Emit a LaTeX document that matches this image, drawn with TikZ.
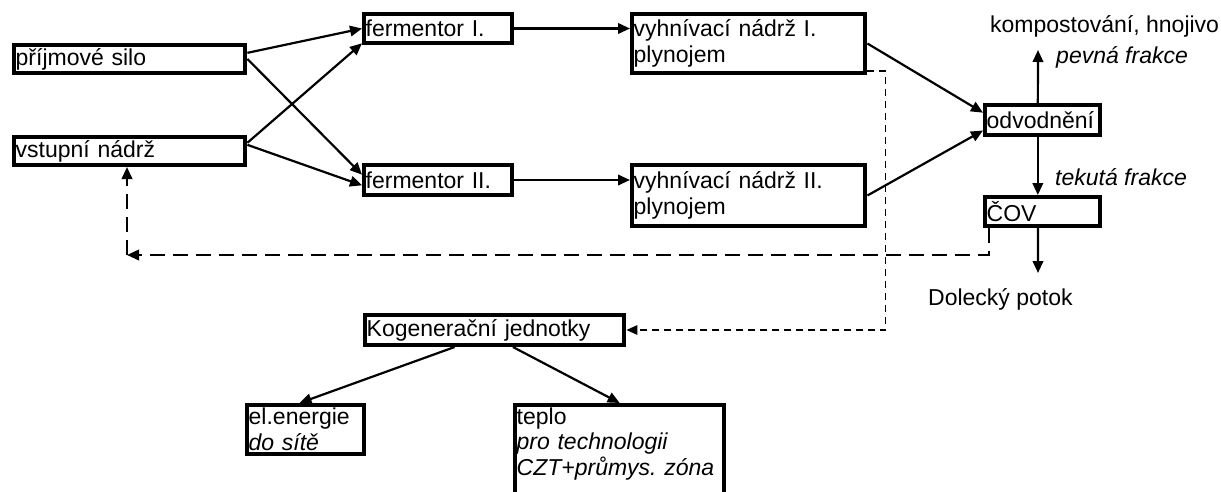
\documentclass[tikz,border=0pt]{standalone}
\usepackage{fontspec}
\setmainfont{Liberation Sans}
\frenchspacing
\usetikzlibrary{arrows.meta,calc}

\begin{document}
\begin{tikzpicture}[x=1pt, y=-1pt,
    box/.style={draw, line width=4.4pt, anchor=north west, inner xsep=1.5pt, inner ysep=0pt, align=left, font=\fontsize{23}{25.5}\selectfont},
    lbl/.style={inner sep=0pt, anchor=base west, font=\fontsize{23}{25.5}\selectfont},
    arr/.style={-{Triangle[length=12pt,width=10.5pt]}, line width=2.2pt},
    back/.style={arr, dash pattern=on 15pt off 8pt},
    gas/.style={-{Triangle[length=11pt,width=9.5pt]}, line width=1.6pt, dash pattern=on 7pt off 5pt}
]
\useasboundingbox (0,0) rectangle (1221,491);
\clip (0,0) rectangle (1221,491);

\node[box, text width=228pt, minimum height=27.6pt] (silo) at (12,43) {příjmové silo};
\node[box, text width=228pt, minimum height=27.6pt] (vstup) at (12,135) {vstupní nádrž};
\node[box, text width=145pt, minimum height=28.6pt] (f1) at (362,12) {fermentor I.};
\node[box, text width=145pt, minimum height=29.6pt] (f2) at (362,163) {fermentor II.};
\node[box, text width=230pt, minimum height=58.6pt] (v1) at (630,12) {vyhnívací nádrž I.\\plynojem};
\node[box, text width=230pt, minimum height=60.6pt] (v2) at (630,163) {vyhnívací nádrž II.\\plynojem};
\node[box, text width=112pt, minimum height=29.6pt] (odv) at (983,103) {odvodnění};
\node[box, text width=112pt, minimum height=28.6pt] (cov) at (983,195) {ČOV};
\node[box, text width=256pt, minimum height=29.6pt] (kog) at (363,313) {Kogenerační jednotky};
\node[box, text width=114pt, minimum height=48.6pt] (el) at (245,403) {el.energie\\\textit{do sítě}};
\node[box, text width=206pt, inner ysep=2.3pt, text depth=100pt] (teplo) at (513,403) {teplo\\\textit{pro technologii}\\\textit{CZT+průmys. zóna}};

\node[lbl] (kompost) at (990,32) {kompostování, hnojivo};
\node[lbl] (pevna) at (1056,63) {\textit{pevná frakce}};
\node[lbl] (tekuta) at (1055,185) {\textit{tekutá frakce}};
\node[lbl] (potok) at (928,305) {Dolecký potok};

\coordinate (solid) at (1038,50);
\coordinate (outflow) at (1038,273);
\coordinate (ret) at (127,255);

% vstup do fermentoru
\draw[arr] (silo.3) -- (f1.west);
\draw[arr] (silo.east) -- (f2.176);
\draw[arr] (vstup.4) -- (f1.191);
\draw[arr] (vstup.3) -- (f2.184);
\draw[arr] (f1.east) -- (v1.west |- f1.east);
\draw[arr] (f2.east) -- (v2.west |- f2.east);
\draw[arr] (v1.east) -- (odv.173);
\draw[arr] (v2.east) -- (odv.190);

% odvodneni
\draw[arr] (odv.106) -- (solid);
\draw[arr] (odv.-106) -- (odv.-106 |- cov.north);
\draw[arr] (cov.-106) -- (outflow);

% zpetne vedeni a plyn
\draw[back] (cov.197) |- (ret);
\draw[back] (ret) -- (ret |- vstup.south);
\draw[gas] (v1.-13) -- ++(18,0) |- (kog.east);

\draw[arr] (kog.-157) -- (el.103);
\draw[arr] (kog.-43) -- (teplo.north);
\end{tikzpicture}
\end{document}
